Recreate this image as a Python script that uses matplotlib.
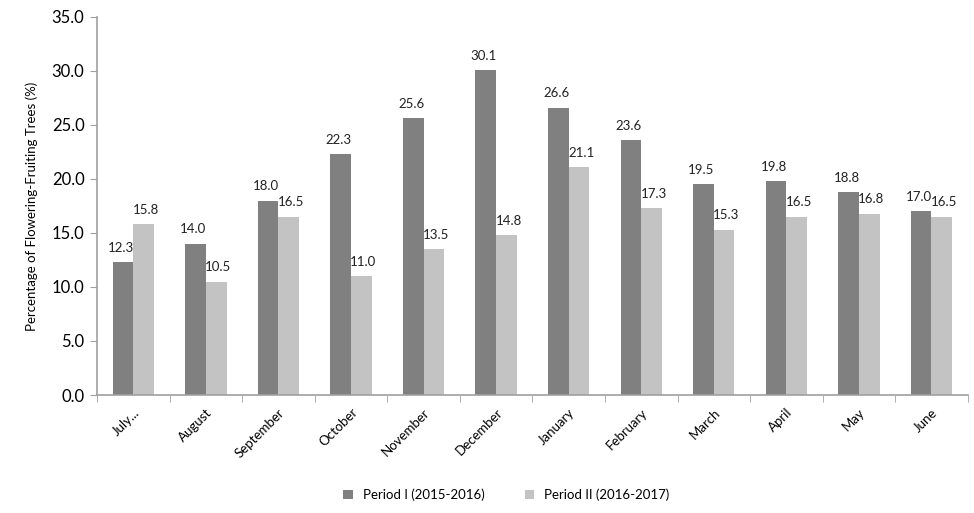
import numpy as np
import matplotlib.pyplot as plt

months = ['July...', 'August', 'September', 'October', 'November', 'December',
          'January', 'February', 'March', 'April', 'May', 'June']
period1 = [12.3, 14.0, 18.0, 22.3, 25.6, 30.1, 26.6, 23.6, 19.5, 19.8, 18.8, 17.0]
period2 = [15.8, 10.5, 16.5, 11.0, 13.5, 14.8, 21.1, 17.3, 15.3, 16.5, 16.8, 16.5]
labels = ['Period I (2015-2016)', 'Period II (2016-2017)']

plt.rcParams['font.family'] = ['Lato', 'DejaVu Sans']

fig = plt.figure(figsize=(9.74, 5.13), dpi=100)
ax = fig.add_axes([0.0996, 0.23, 0.894, 0.737])

x = np.arange(len(months))
w = 0.285
b1 = ax.bar(x - w / 2, period1, w, color='#808080', label=labels[0])
b2 = ax.bar(x + w / 2, period2, w, color='#c3c3c3', label=labels[1])

# small sideways nudge so neighbouring labels don't collide
for bars, dx in ((b1, -1.5), (b2, 1.5)):
  for r in bars:
    h = r.get_height()
    ax.annotate(f'{h:.1f}', (r.get_x() + r.get_width() / 2, h),
                xytext=(dx, 6), textcoords='offset points',
                ha='center', va='bottom', fontsize=9.5, color='#222222')

ax.set_xlim(-0.5, len(months) - 0.5)
ax.set_ylim(0, 35)
ax.set_yticks(np.arange(0, 35.1, 5))
ax.set_yticklabels([f'{v:.1f}' for v in np.arange(0, 35.1, 5)], fontsize=12)
ax.set_xticks(x)
ax.set_xticklabels(months, rotation=45, ha='right', rotation_mode='anchor', fontsize=9.5)
ax.set_xticks(np.arange(-0.5, len(months)), minor=True)
ax.tick_params(axis='x', which='major', length=0, pad=8)
ax.tick_params(axis='x', which='minor', length=5, color='#a0a0a0')
ax.tick_params(axis='y', length=5, color='#a0a0a0', pad=4)
ax.set_ylabel('Percentage of Flowering-Fruiting Trees (%)', fontsize=9.5, labelpad=10)

for s in ['top', 'right']:
  ax.spines[s].set_visible(False)
for s in ['left', 'bottom']:
  ax.spines[s].set_color('#a0a0a0')
  ax.spines[s].set_linewidth(1.2)

fig.legend(loc='lower center', bbox_to_anchor=(0.52, 0.0), ncol=2, frameon=False,
           fontsize=9.5, handlelength=0.7, handleheight=0.7, columnspacing=3)

fig.savefig('out.png', dpi=100)
